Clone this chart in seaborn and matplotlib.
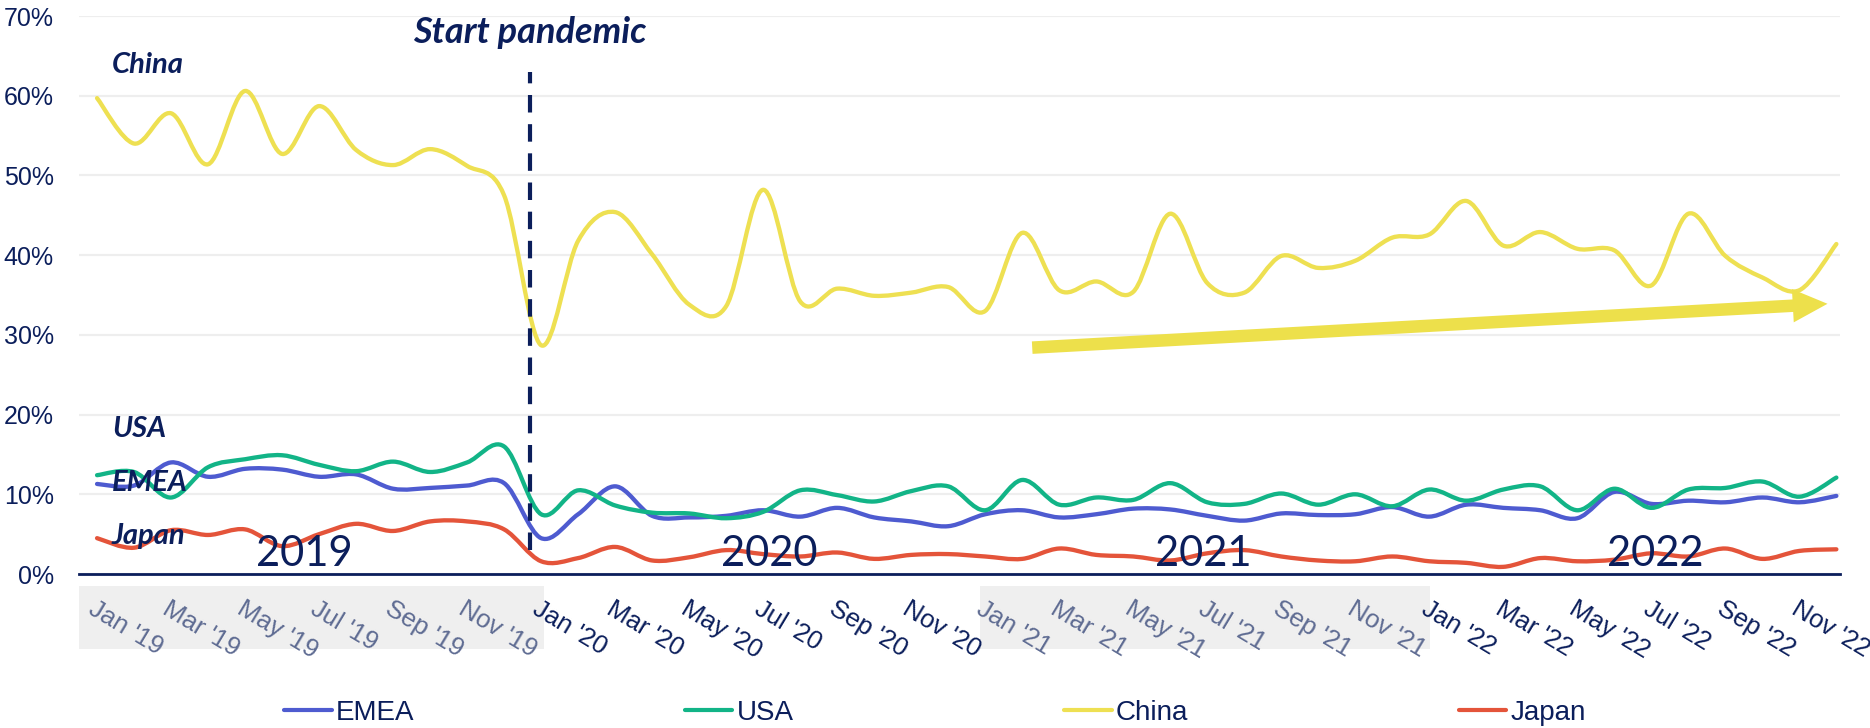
import numpy as np
import pandas as pd
import matplotlib
matplotlib.use("Agg")
import matplotlib.pyplot as plt
import seaborn as sns
from matplotlib.path import Path
from matplotlib.patches import PathPatch, Rectangle
from matplotlib.lines import Line2D
import matplotlib.transforms as mtransforms

# ---- data: monthly share (%) by region, Jan 2019 - Dec 2022 ----
month_names = ["Jan", "Feb", "Mar", "Apr", "May", "Jun",
               "Jul", "Aug", "Sep", "Oct", "Nov", "Dec"]
years = [2019, 2020, 2021, 2022]
month_labels = [f"{m} '{y % 100}" for y in years for m in month_names]

regions = ["EMEA", "USA", "China", "Japan"]

emea = [11.3, 11.1, 14.0, 12.2, 13.2, 13.1, 12.2, 12.5, 10.7, 10.8, 11.1, 11.4,
        4.5, 7.5, 11.0, 7.3, 7.1, 7.3, 8.0, 7.2, 8.3, 7.1, 6.6, 6.0,
        7.5, 8.0, 7.1, 7.5, 8.2, 8.1, 7.3, 6.7, 7.6, 7.4, 7.5, 8.4,
        7.2, 8.7, 8.3, 8.0, 7.0, 10.3, 8.8, 9.2, 9.0, 9.6, 9.0, 9.8]
usa = [12.4, 12.8, 9.6, 13.4, 14.4, 14.9, 13.7, 12.9, 14.1, 12.8, 14.0, 16.0,
       7.5, 10.5, 8.6, 7.7, 7.6, 7.0, 7.8, 10.5, 9.9, 9.1, 10.4, 11.0,
       8.0, 11.8, 8.7, 9.6, 9.3, 11.4, 9.0, 8.8, 10.1, 8.7, 10.0, 8.5,
       10.6, 9.2, 10.6, 11.0, 8.0, 10.7, 8.3, 10.6, 10.8, 11.6, 9.7, 12.1]
china = [59.7, 54.0, 57.8, 51.4, 60.6, 52.7, 58.7, 53.2, 51.3, 53.3, 51.2, 47.5,
         28.7, 41.8, 45.4, 40.1, 33.8, 33.6, 48.2, 34.2, 35.8, 34.9, 35.3, 36.0,
         33.0, 42.8, 35.6, 36.7, 35.4, 45.2, 36.5, 35.3, 39.9, 38.4, 39.3, 42.2,
         42.6, 46.8, 41.2, 42.9, 40.8, 40.6, 36.2, 45.2, 39.9, 37.2, 35.6, 41.4]
japan = [4.5, 3.3, 5.5, 4.9, 5.6, 3.5, 5.0, 6.3, 5.4, 6.6, 6.6, 5.6,
         1.6, 2.0, 3.4, 1.7, 2.1, 3.0, 2.5, 2.2, 2.7, 1.9, 2.4, 2.5,
         2.2, 1.9, 3.2, 2.4, 2.2, 1.7, 2.6, 3.0, 2.2, 1.7, 1.6, 2.2,
         1.6, 1.4, 0.9, 2.0, 1.6, 1.8, 2.6, 2.2, 3.2, 1.9, 2.9, 3.1]

year_labels = ["2019", "2020", "2021", "2022"]
pandemic_label = "Start pandemic"

# ---- styling ----
NAVY = "#0B1E5B"
MUTED = "#5E6B92"
colors = {"EMEA": "#4E5BD0", "USA": "#12B487", "China": "#EEE052", "Japan": "#E4543A"}

sns.set_theme(style="white")
plt.rcParams["font.family"] = ["Liberation Sans Narrow", "Liberation Sans", "DejaVu Sans"]

fig = plt.figure(figsize=(18.7, 7.28), dpi=100)
ax = fig.add_axes([0.0422, 0.2115, 0.984 - 0.0422, 0.978 - 0.2115])

n = len(month_labels)
df = pd.DataFrame({
    "month": np.tile(np.arange(n), len(regions)),
    "share": emea + usa + china + japan,
    "region": np.repeat(regions, n),
})

sns.lineplot(data=df, x="month", y="share", hue="region", hue_order=regions,
             palette=colors, linewidth=3.1, errorbar=None, legend=False, ax=ax)


def smooth_path(xs, ys):
    """Cubic Bezier path through the points (Catmull-Rom style smoothing)."""
    pts = np.column_stack([xs, ys]).astype(float)
    m = len(pts)
    verts = [pts[0]]
    codes = [Path.MOVETO]
    for i in range(m - 1):
        p0 = pts[max(i - 1, 0)]
        p1 = pts[i]
        p2 = pts[i + 1]
        p3 = pts[min(i + 2, m - 1)]
        c1 = p1 + (p2 - p0) / 6.0
        c2 = p2 - (p3 - p1) / 6.0
        verts += [c1, c2, p2]
        codes += [Path.CURVE4] * 3
    return Path(np.array(verts), codes)


# replace the straight polylines by smoothed curves through the same points
for line in list(ax.lines):
    path = smooth_path(line.get_xdata(), line.get_ydata())
    patch = PathPatch(path, facecolor="none", edgecolor=line.get_color(),
                      linewidth=line.get_linewidth(), capstyle="round",
                      joinstyle="round", zorder=line.get_zorder())
    ax.add_patch(patch)
    line.remove()

# axes limits, grid, spines
ax.set_xlim(-0.49, 47.1)
ax.set_ylim(0, 70)
ax.set_yticks(range(0, 71, 10))
ax.set_yticklabels([f"{v}%" for v in range(0, 71, 10)])
ax.yaxis.grid(True, color="#EEEEEE", linewidth=1.6)
ax.xaxis.grid(False)
for side in ["top", "right", "left"]:
    ax.spines[side].set_visible(False)
ax.spines["bottom"].set_color(NAVY)
ax.spines["bottom"].set_linewidth(2)
ax.set_xlabel("")
ax.set_ylabel("")
ax.tick_params(axis="y", length=0, pad=18, labelsize=18, labelcolor=NAVY)
ax.tick_params(axis="x", length=0, pad=16, labelsize=18.5)

# shaded bands behind the 2019 and 2021 month labels
band_tr = mtransforms.blended_transform_factory(ax.transData, ax.transAxes)
for x0, x1 in [(-0.49, 12.08), (23.86, 36.03)]:
    ax.add_patch(Rectangle((x0, -0.134), x1 - x0, 0.1125, transform=band_tr,
                           facecolor="#EFEFEF", edgecolor="none",
                           clip_on=False, zorder=0.2))

tick_pos = list(range(0, n, 2))
ax.set_xticks(tick_pos)
ax.set_xticklabels([month_labels[i] for i in tick_pos])
for lab, pos in zip(ax.get_xticklabels(), tick_pos):
    lab.set_rotation(-31)
    lab.set_ha("left")
    lab.set_va("top")
    lab.set_rotation_mode("anchor")
    in_band = pos < 12 or 24 <= pos < 36
    lab.set_color(MUTED if in_band else NAVY)

# pandemic marker
ax.plot([11.7, 11.7], [3.0, 63.0], color=NAVY, linewidth=3.0,
        linestyle=(0, (4.2, 2.8)), zorder=3)
ax.text(8.54, 66.6, pandemic_label, color=NAVY, fontsize=26,
        fontweight="bold", fontstyle="italic", family=["Lato", "DejaVu Sans"],
        ha="left", va="baseline", zorder=5)

# series names
for name, yv in [("China", 62.9), ("USA", 17.2), ("EMEA", 10.4), ("Japan", 3.8)]:
    ax.text(0.4, yv, name, color=NAVY, fontsize=21, fontweight="bold",
            fontstyle="italic", family=["Lato", "DejaVu Sans"],
            ha="left", va="baseline", zorder=6)

# year labels
for label, xc in zip(year_labels, [5.6, 18.16, 29.9, 42.1]):
    ax.text(xc, 1.0, label, color=NAVY, fontsize=30,
            family=["Lato", "DejaVu Sans"], ha="center", va="baseline", zorder=6)

# trend arrow
ax.annotate("", xy=(46.76, 33.9), xytext=(25.27, 28.4),
            arrowprops=dict(arrowstyle="simple,head_length=1.25,head_width=1.2,tail_width=0.45",
                            mutation_scale=20, color="#EDE04B", lw=0,
                            shrinkA=0, shrinkB=0),
            zorder=4)

# legend
handles = [Line2D([], [], color=colors[r], linewidth=3) for r in regions]
fig.legend(handles, regions, loc="center", bbox_to_anchor=(0.5, 0.0206),
           ncol=4, frameon=False, handlelength=1.7, handletextpad=0.15,
           columnspacing=9.75, fontsize=20, labelcolor=NAVY)

fig.savefig("out.png", dpi=100, facecolor="white")
